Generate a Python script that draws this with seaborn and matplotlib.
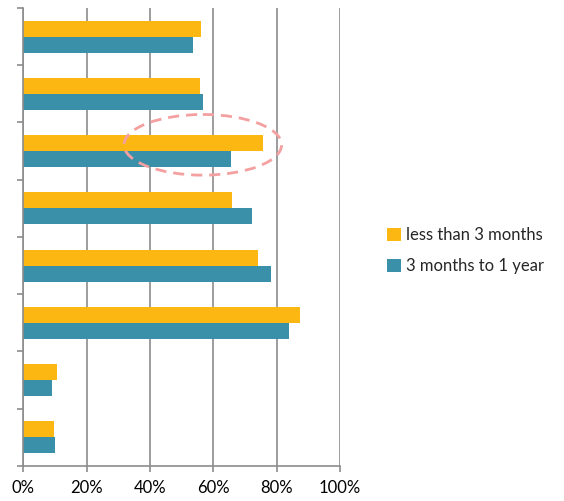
import pandas as pd
import matplotlib
matplotlib.use("Agg")
import matplotlib.pyplot as plt
from matplotlib.patches import Ellipse
from matplotlib.ticker import PercentFormatter
import seaborn as sns

sns.set_style("white")
plt.rcParams['font.family'] = ['Lato', 'DejaVu Sans']

# -------------------
# Data (top to bottom)
# -------------------
categories = ["1", "2", "3", "4", "5", "6", "7", "8"]
less_than_3_months = [56.2, 55.8, 75.6, 66.0, 74.0, 87.2, 10.7, 9.6]
three_months_to_1_year = [53.7, 56.8, 65.5, 72.3, 78.1, 84.0, 9.2, 10.2]
series_names = ["less than 3 months", "3 months to 1 year"]
colors = ["#FDB713", "#3A90A8"]

df = pd.DataFrame({
    "category": categories * 2,
    "value": less_than_3_months + three_months_to_1_year,
    "series": [series_names[0]] * len(categories) + [series_names[1]] * len(categories),
})

# -------------------
# Plot
# -------------------
fig = plt.figure(figsize=(5.64, 5.01), dpi=100)
ax = fig.add_axes([0.041, 0.07, 0.562, 0.914])

sns.barplot(data=df, x="value", y="category", hue="series", order=categories,
            hue_order=series_names, palette=colors, saturation=1, orient="h",
            width=0.56, linewidth=0, ax=ax, legend=True)

ax.set_xlim(0, 100)
ax.set_ylim(len(categories) - 0.5, -0.5)
ax.set_xticks([0, 20, 40, 60, 80, 100])
ax.xaxis.set_major_formatter(PercentFormatter(decimals=0))
ax.set_yticks([i - 0.5 for i in range(len(categories) + 1)])
ax.set_yticklabels([])
ax.set_xlabel("")
ax.set_ylabel("")

ax.grid(axis="x", color="#8c8c8c", linewidth=1.2)
ax.set_axisbelow(True)
for side in ["top", "right"]:
    ax.spines[side].set_visible(False)
for side in ["left", "bottom"]:
    ax.spines[side].set_color("#8c8c8c")
    ax.spines[side].set_linewidth(1.2)
ax.tick_params(axis="both", which="both", direction="out", length=4,
               color="#8c8c8c", width=1.2, left=True, bottom=True)
ax.tick_params(axis="x", labelsize=12, pad=6, labelcolor="black")

# highlight around the third group
ax.add_patch(Ellipse((56.7, 1.89), 49.7, 1.06, fill=False, edgecolor="#F4A0A0",
                     linestyle=(0, (4, 2.5)), linewidth=2, clip_on=False))

handles, labels = ax.get_legend_handles_labels()
ax.legend(handles, labels, loc="center left", bbox_to_anchor=(0.66, 0.5),
          bbox_transform=fig.transFigure, frameon=False, fontsize=12,
          handlelength=0.8, handleheight=0.8, handletextpad=0.3, labelspacing=0.9)

plt.savefig("out.png", dpi=100)
